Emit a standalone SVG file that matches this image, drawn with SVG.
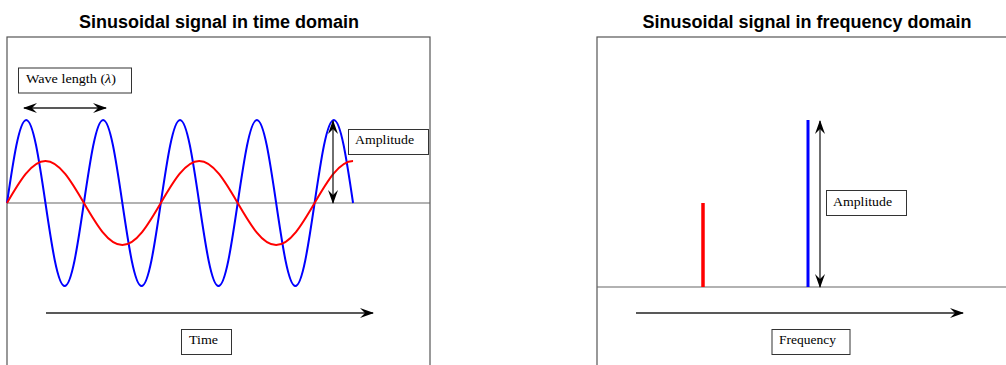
<svg xmlns="http://www.w3.org/2000/svg" width="1006" height="365" viewBox="0 0 1006 365">
<style>
.title{font-family:"Liberation Sans",Arial,sans-serif;font-weight:bold;font-size:18px;fill:#000;text-anchor:middle}
.panel{fill:#fff;stroke:#555;stroke-width:1.2}
.axis{stroke:#666;stroke-width:1.2;fill:none}
.box{fill:#fff;stroke:#333;stroke-width:1}
.lbl{font-family:"Liberation Serif","Times New Roman",serif;font-size:12px;fill:#000}
.arr{stroke:#222;stroke-width:1.3;fill:none}
.blue{stroke:#0000ff;stroke-width:2;fill:none}
.red{stroke:#ff0000;stroke-width:2;fill:none}
</style>
<defs>
<marker id="ah" viewBox="0 0 14 10" markerUnits="userSpaceOnUse" markerWidth="14" markerHeight="10" refX="13" refY="5" orient="auto-start-reverse">
<path d="M0,0 L14,5 L0,10 L5,5 z" fill="#000"/>
</marker>
</defs>
<rect width="1006" height="365" fill="#fff"/>
<text class="title" x="219" y="28">Sinusoidal signal in time domain</text>
<text class="title" x="807" y="28">Sinusoidal signal in frequency domain</text>
<g id="time-panel">
<rect class="panel" x="7" y="37" width="423" height="340"/>
<line class="axis" x1="7" y1="203" x2="430" y2="203"/>
<path id="blue-wave" class="blue" d="M7,203
c6.27,-42.52 12.27,-83 19.225,-83 c6.955,0 12.955,40.48 19.225,83 c6.27,42.52 12.27,83 19.225,83 c6.955,0 12.955,-40.48 19.225,-83
c6.27,-42.52 12.27,-83 19.225,-83 c6.955,0 12.955,40.48 19.225,83 c6.27,42.52 12.27,83 19.225,83 c6.955,0 12.955,-40.48 19.225,-83
c6.27,-42.52 12.27,-83 19.225,-83 c6.955,0 12.955,40.48 19.225,83 c6.27,42.52 12.27,83 19.225,83 c6.955,0 12.955,-40.48 19.225,-83
c6.27,-42.52 12.27,-83 19.225,-83 c6.955,0 12.955,40.48 19.225,83 c6.27,42.52 12.27,83 19.225,83 c6.955,0 12.955,-40.48 19.225,-83
c6.27,-42.52 12.27,-83 19.225,-83 c6.955,0 12.955,40.48 19.225,83"/>
<path id="red-wave" class="red" d="M7,203
c12.54,-21.52 24.53,-42 38.45,-42 c13.92,0 25.91,20.48 38.45,42 c12.54,21.52 24.53,42 38.45,42 c13.92,0 25.91,-20.48 38.45,-42
c12.54,-21.52 24.53,-42 38.45,-42 c13.92,0 25.91,20.48 38.45,42 c12.54,21.52 24.53,42 38.45,42 c13.92,0 25.91,-20.48 38.45,-42
c12.54,-21.52 24.53,-42 38.45,-42"/>
</g>
<g id="freq-panel">
<rect class="panel" x="597" y="37" width="423" height="340"/>
<line class="axis" x1="597" y1="287" x2="1006" y2="287"/>
<line id="red-spike" x1="703" y1="203" x2="703" y2="287" stroke="#ff0000" stroke-width="3.5"/>
<line id="blue-spike" x1="808" y1="120" x2="808" y2="287" stroke="#0000ff" stroke-width="3"/>
</g>
<g id="connectors">
<line class="arr" x1="24" y1="108" x2="106" y2="108" marker-start="url(#ah)" marker-end="url(#ah)"/>
<line class="arr" x1="333" y1="121" x2="333" y2="203" marker-start="url(#ah)" marker-end="url(#ah)"/>
<line class="arr" stroke="#555" x1="46" y1="313" x2="373" y2="313" marker-end="url(#ah)"/>
<line class="arr" x1="820" y1="121" x2="820" y2="287" marker-start="url(#ah)" marker-end="url(#ah)"/>
<line class="arr" x1="636" y1="313" x2="963" y2="313" marker-end="url(#ah)"/>
</g>
<g id="wavelength-label">
<rect class="box" x="18.5" y="68" width="113" height="25"/>
<text class="lbl" x="26" y="83" textLength="90" lengthAdjust="spacingAndGlyphs">Wave length (<tspan font-style="italic">λ</tspan>)</text>
</g>
<g id="amplitude-time-label">
<rect class="box" x="348.5" y="129.5" width="80" height="25"/>
<text class="lbl" x="355" y="144" textLength="59" lengthAdjust="spacingAndGlyphs">Amplitude</text>
</g>
<g id="time-label">
<rect class="box" x="181.5" y="329.5" width="50" height="25"/>
<text class="lbl" x="189" y="344" textLength="29" lengthAdjust="spacingAndGlyphs">Time</text>
</g>
<g id="amplitude-freq-label">
<rect class="box" x="826.5" y="190.5" width="80" height="25"/>
<text class="lbl" x="833" y="206" textLength="59" lengthAdjust="spacingAndGlyphs">Amplitude</text>
</g>
<g id="frequency-label">
<rect class="box" x="772" y="329.5" width="78" height="25"/>
<text class="lbl" x="779" y="344" textLength="57" lengthAdjust="spacingAndGlyphs">Frequency</text>
</g>
</svg>
